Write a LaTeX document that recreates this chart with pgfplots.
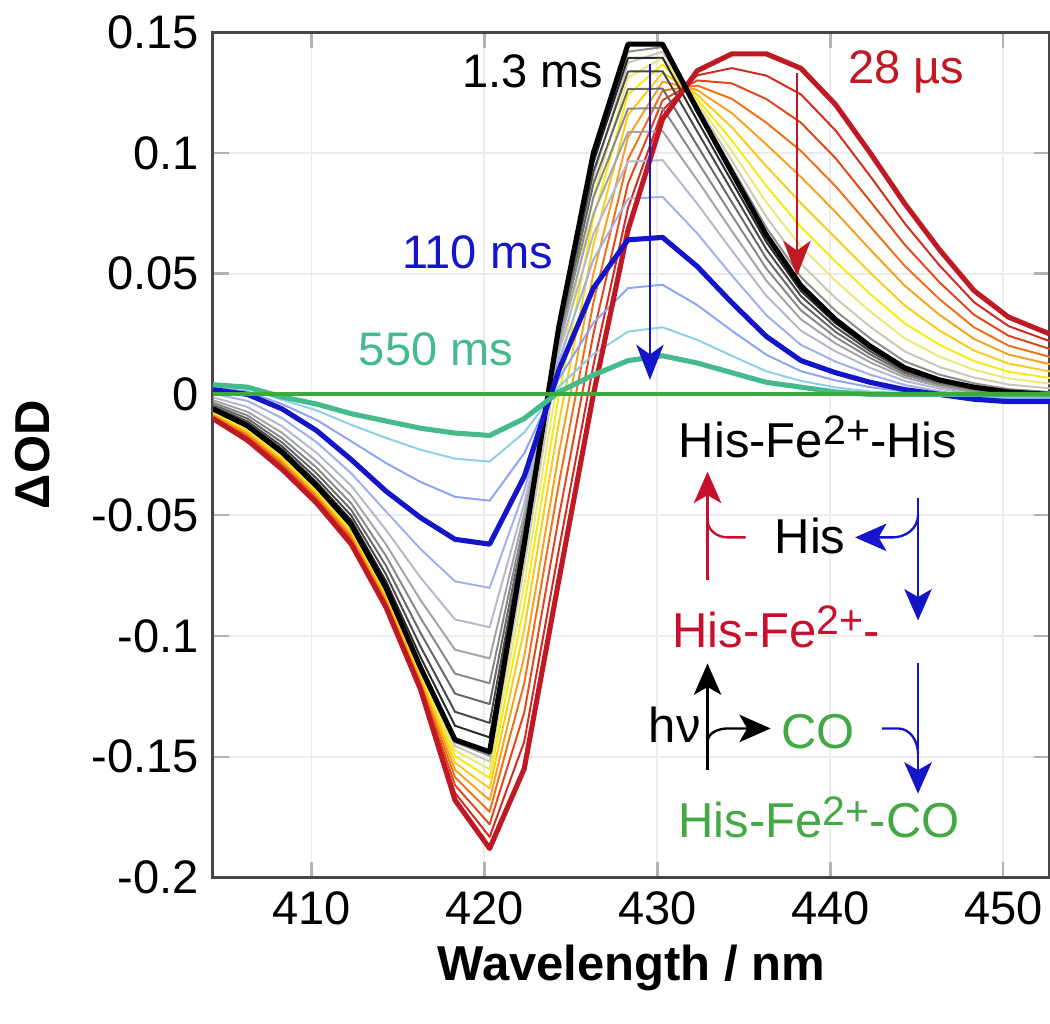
\documentclass[border=0pt]{standalone}
\usepackage{fontspec}
\setmainfont{Liberation Sans}
\usepackage{pgfplots}
\usepackage{pgfplotstable}
\pgfplotsset{compat=1.18}
\usetikzlibrary{arrows.meta}

\definecolor{c28us}{HTML}{BF1A24}
\definecolor{c13ms}{HTML}{000000}
\definecolor{c110ms}{HTML}{1414C8}
\definecolor{c550ms}{HTML}{45BA8C}
\definecolor{cflat}{HTML}{3BAA3B}
\definecolor{a12}{HTML}{D42A1E}
\definecolor{a25}{HTML}{E2461A}
\definecolor{a38}{HTML}{EE7018}
\definecolor{a50}{HTML}{F6A21E}
\definecolor{a62}{HTML}{F8CC1C}
\definecolor{a73}{HTML}{F4EC10}
\definecolor{a82}{HTML}{ECE878}
\definecolor{a90}{HTML}{C8C8B4}
\definecolor{a96}{HTML}{8C8C8C}
\definecolor{b07}{HTML}{2A2A2A}
\definecolor{b14}{HTML}{484848}
\definecolor{b23}{HTML}{686868}
\definecolor{b33}{HTML}{888888}
\definecolor{b45}{HTML}{A4A4A8}
\definecolor{b60}{HTML}{B4B8CC}
\definecolor{b79}{HTML}{A0B0EC}
\definecolor{c40}{HTML}{8CA4F4}
\definecolor{c76}{HTML}{8CD0E8}
\definecolor{schred}{HTML}{C8102E}
\definecolor{schgreen}{HTML}{44A844}

% transient spectra, 28 us -> 1.3 ms -> 110 ms -> 550 ms
\pgfplotstableread{
x     R      a12     a25     a38     a50     a62     a73     a82     a90     a96     K      b07     b14     b23     b33     b45     b60     b79     B      c40     c76     T
404.3 -0.010 -0.0095 -0.0090 -0.0085 -0.0080 -0.0075 -0.0071 -0.0067 -0.0064 -0.0062 -0.006 -0.0054 -0.0049 -0.0042 -0.0034 -0.0024 -0.0012 0.0003 0.002 0.0028 0.0035 0.004
406.3 -0.019 -0.0183 -0.0175 -0.0167 -0.0160 -0.0153 -0.0146 -0.0141 -0.0136 -0.0132 -0.013 -0.0121 -0.0112 -0.0100 -0.0087 -0.0072 -0.0052 -0.0027 0.000 0.0012 0.0023 0.003
408.3 -0.031 -0.0302 -0.0293 -0.0283 -0.0275 -0.0267 -0.0259 -0.0253 -0.0247 -0.0243 -0.024 -0.0227 -0.0215 -0.0199 -0.0181 -0.0159 -0.0132 -0.0098 -0.006 -0.0040 -0.0022 -0.001
410.3 -0.045 -0.0442 -0.0433 -0.0423 -0.0415 -0.0407 -0.0399 -0.0393 -0.0387 -0.0383 -0.038 -0.0364 -0.0348 -0.0327 -0.0304 -0.0277 -0.0242 -0.0198 -0.015 -0.0106 -0.0066 -0.004
412.3 -0.062 -0.0610 -0.0600 -0.0590 -0.0580 -0.0570 -0.0562 -0.0554 -0.0548 -0.0543 -0.054 -0.0521 -0.0502 -0.0478 -0.0451 -0.0419 -0.0378 -0.0327 -0.027 -0.0194 -0.0126 -0.008
414.3 -0.088 -0.0870 -0.0860 -0.0850 -0.0840 -0.0830 -0.0822 -0.0814 -0.0808 -0.0803 -0.080 -0.0772 -0.0744 -0.0708 -0.0668 -0.0620 -0.0560 -0.0484 -0.040 -0.0284 -0.0180 -0.011
416.3 -0.122 -0.1209 -0.1198 -0.1186 -0.1175 -0.1164 -0.1154 -0.1146 -0.1139 -0.1134 -0.113 -0.1087 -0.1043 -0.0987 -0.0925 -0.0851 -0.0758 -0.0640 -0.051 -0.0362 -0.0229 -0.014
418.3 -0.168 -0.1650 -0.1618 -0.1585 -0.1555 -0.1525 -0.1498 -0.1475 -0.1455 -0.1440 -0.143 -0.1372 -0.1314 -0.1239 -0.1156 -0.1057 -0.0932 -0.0774 -0.060 -0.0424 -0.0266 -0.016
420.3 -0.188 -0.1832 -0.1780 -0.1728 -0.1680 -0.1632 -0.1588 -0.1552 -0.1520 -0.1496 -0.148 -0.1420 -0.1360 -0.1282 -0.1196 -0.1093 -0.0964 -0.0801 -0.062 -0.0440 -0.0278 -0.017
422.3 -0.155 -0.1438 -0.1318 -0.1197 -0.1085 -0.0973 -0.0871 -0.0787 -0.0713 -0.0657 -0.062 -0.0600 -0.0581 -0.0556 -0.0528 -0.0494 -0.0452 -0.0399 -0.034 -0.0244 -0.0158 -0.010
424.3 -0.077 -0.0644 -0.0508 -0.0371 -0.0245 -0.0119 -0.0004 0.0091 0.0175 0.0238 0.028 0.0267 0.0255 0.0239 0.0221 0.0199 0.0172 0.0138 0.010 0.0064 0.0032 0.001
426.3 0.000 0.0120 0.0250 0.0380 0.0500 0.0620 0.0730 0.0820 0.0900 0.0960 0.100 0.0961 0.0922 0.0871 0.0815 0.0748 0.0664 0.0558 0.044 0.0296 0.0166 0.008
428.3 0.068 0.0772 0.0873 0.0973 0.1065 0.1157 0.1242 0.1311 0.1373 0.1419 0.145 0.1393 0.1337 0.1264 0.1183 0.1086 0.0964 0.0810 0.064 0.0440 0.0260 0.014
430.3 0.114 0.1177 0.1218 0.1258 0.1295 0.1332 0.1366 0.1394 0.1419 0.1438 0.145 0.1394 0.1338 0.1266 0.1186 0.1090 0.0970 0.0818 0.065 0.0454 0.0278 0.016
432.3 0.134 0.1321 0.1300 0.1279 0.1260 0.1241 0.1223 0.1209 0.1196 0.1186 0.118 0.1135 0.1089 0.1031 0.0966 0.0888 0.0790 0.0667 0.053 0.0370 0.0226 0.013
434.3 0.141 0.1351 0.1288 0.1224 0.1165 0.1106 0.1052 0.1008 0.0969 0.0940 0.092 0.0882 0.0844 0.0796 0.0742 0.0677 0.0596 0.0493 0.038 0.0264 0.0160 0.009
436.3 0.141 0.1320 0.1223 0.1125 0.1035 0.0945 0.0863 0.0795 0.0735 0.0690 0.066 0.0631 0.0601 0.0563 0.0521 0.0471 0.0408 0.0328 0.024 0.0164 0.0096 0.005
438.3 0.135 0.1242 0.1125 0.1008 0.0900 0.0792 0.0693 0.0612 0.0540 0.0486 0.045 0.0428 0.0407 0.0379 0.0348 0.0311 0.0264 0.0205 0.014 0.0096 0.0056 0.003
440.3 0.120 0.1093 0.0978 0.0862 0.0755 0.0648 0.0550 0.0470 0.0399 0.0346 0.031 0.0295 0.0279 0.0259 0.0237 0.0211 0.0178 0.0136 0.009 0.0058 0.0029 0.001
442.3 0.100 0.0904 0.0800 0.0696 0.0600 0.0504 0.0416 0.0344 0.0280 0.0232 0.020 0.0190 0.0179 0.0166 0.0151 0.0133 0.0110 0.0082 0.005 0.0030 0.0012 0.000
444.3 0.079 0.0708 0.0620 0.0532 0.0450 0.0368 0.0294 0.0232 0.0178 0.0137 0.011 0.0104 0.0097 0.0089 0.0080 0.0070 0.0056 0.0039 0.002 0.0012 0.0005 0.000
446.3 0.060 0.0535 0.0465 0.0395 0.0330 0.0265 0.0206 0.0157 0.0114 0.0082 0.006 0.0056 0.0052 0.0046 0.0040 0.0033 0.0024 0.0013 0.000 0.0000 0.0000 0.000
448.3 0.043 0.0382 0.0330 0.0278 0.0230 0.0182 0.0138 0.0102 0.0070 0.0046 0.003 0.0027 0.0023 0.0019 0.0014 0.0008 0.0000 -0.0010 -0.002 -0.0012 -0.0005 0.000
450.3 0.032 0.0283 0.0243 0.0202 0.0165 0.0128 0.0094 0.0066 0.0041 0.0022 0.001 0.0007 0.0004 0.0001 -0.0003 -0.0008 -0.0014 -0.0022 -0.003 -0.0018 -0.0007 0.000
452.7 0.025 0.0220 0.0188 0.0155 0.0125 0.0095 0.0068 0.0045 0.0025 0.0010 0.000 -0.0002 -0.0004 -0.0007 -0.0010 -0.0014 -0.0018 -0.0024 -0.003 -0.0018 -0.0007 0.000
}\spectra

\newcommand{\chg}{\raisebox{3.2pt}{\fontsize{10.5}{11}\selectfont 2+}}

\begin{document}
\begin{tikzpicture}
\begin{axis}[
    name=ax,
    scale only axis,
    width=213.5pt,
    height=215.6pt,
    xmin=404.3, xmax=452.7,
    ymin=-0.2, ymax=0.15,
    xtick={410,420,430,440,450},
    xticklabels={410,420,430,440,450},
    ytick={-0.2,-0.15,-0.1,-0.05,0,0.05,0.1,0.15},
    yticklabels={-0.2,-0.15,-0.1,-0.05,0,0.05,0.1,0.15},
    tick label style={font=\fontsize{12}{14}\selectfont},
    tick align=inside,
    major tick length=4pt,
    tick style={draw=gray!60, line width=0.6pt},
    grid=major,
    major grid style={draw=gray!15, line width=0.5pt},
    axis line style={draw=gray!55!black, line width=0.8pt},
    xlabel={Wavelength / nm},
    ylabel={ΔOD},
    label style={font=\fontsize{12.5}{14}\selectfont\bfseries},
    xlabel style={at={(axis description cs:0.5,0)}, anchor=center, yshift=-23pt},
    ylabel style={at={(axis description cs:0,0.5)}, anchor=center, yshift=46pt},
    no markers,
    every axis plot/.append style={line join=round},
]
\addplot[a12, line width=0.5pt] table[x=x, y=a12] {\spectra};
\addplot[a25, line width=0.5pt] table[x=x, y=a25] {\spectra};
\addplot[a38, line width=0.5pt] table[x=x, y=a38] {\spectra};
\addplot[a50, line width=0.5pt] table[x=x, y=a50] {\spectra};
\addplot[a62, line width=0.5pt] table[x=x, y=a62] {\spectra};
\addplot[a73, line width=0.5pt] table[x=x, y=a73] {\spectra};
\addplot[a82, line width=0.5pt] table[x=x, y=a82] {\spectra};
\addplot[a90, line width=0.5pt] table[x=x, y=a90] {\spectra};
\addplot[a96, line width=0.5pt] table[x=x, y=a96] {\spectra};
\addplot[b07, line width=0.5pt] table[x=x, y=b07] {\spectra};
\addplot[b14, line width=0.5pt] table[x=x, y=b14] {\spectra};
\addplot[b23, line width=0.5pt] table[x=x, y=b23] {\spectra};
\addplot[b33, line width=0.5pt] table[x=x, y=b33] {\spectra};
\addplot[b45, line width=0.5pt] table[x=x, y=b45] {\spectra};
\addplot[b60, line width=0.5pt] table[x=x, y=b60] {\spectra};
\addplot[b79, line width=0.5pt] table[x=x, y=b79] {\spectra};
\addplot[c40, line width=0.5pt] table[x=x, y=c40] {\spectra};
\addplot[c76, line width=0.5pt] table[x=x, y=c76] {\spectra};
\addplot[c28us, line width=1.3pt] table[x=x, y=R] {\spectra};
\addplot[c13ms, line width=1.3pt] table[x=x, y=K] {\spectra};
\addplot[c110ms, line width=1.3pt] table[x=x, y=B] {\spectra};
\addplot[c550ms, line width=1.3pt] table[x=x, y=T] {\spectra};
\addplot[cflat, line width=1.0pt] coordinates {(404.3,0) (452.7,0)};

% decay arrows
\draw[c28us, line width=0.5pt, -{Stealth[length=9pt,width=7pt,inset=2.5pt]}] (438.07,0.133) -- (438.07,0.049);
\draw[c110ms, line width=0.5pt, -{Stealth[length=9pt,width=7pt,inset=2.5pt]}] (429.57,0.137) -- (429.57,0.006);

% time labels
\begin{scope}[every node/.style={font=\fontsize{12}{14}\selectfont, anchor=base, inner sep=0pt}]
\node[text=black] at (422.8,0.127) {1.3 ms};
\node[text=c28us] at (444.4,0.1288) {28 µs};
\node[text=c110ms] at (419.6,0.0522) {110 ms};
\node[text=c550ms] at (417.2,0.0120) {550 ms};
\end{scope}

% reaction scheme
\begin{scope}[every node/.style={font=\fontsize{12.5}{14}\selectfont, anchor=base, inner sep=0pt}]
\node[text=black] at (439.29,-0.0261) {His-Fe\chg-His};
\node[text=black] at (438.83,-0.0659) {His};
\node[text=schred] at (436.86,-0.1048) {His-Fe\chg-};
\node[text=black] at (431.01,-0.1442) {hν};
\node[text=schgreen] at (439.29,-0.1466) {CO};
\node[text=schgreen] at (439.35,-0.1835) {His-Fe\chg-CO};
\end{scope}

\begin{scope}[line width=0.6pt]
\draw[schred, -{Stealth[length=8pt,width=7pt,inset=2pt]}] (432.9,-0.077) -- (432.9,-0.032);
\draw[schred] (435.1,-0.0592) -- (434.06,-0.0592) to[out=180,in=-90] (432.9,-0.0520);
\draw[c110ms, -{Stealth[length=8pt,width=7pt,inset=2pt]}] (445.07,-0.0427) -- (445.07,-0.0936);
\draw[c110ms, -{Stealth[length=8pt,width=7pt,inset=2pt]}] (445.07,-0.0500) to[out=-90,in=0] (443.6,-0.0592) -- (441.43,-0.0592);
\draw[black, -{Stealth[length=8pt,width=7pt,inset=2pt]}] (432.9,-0.1557) -- (432.9,-0.1114);
\draw[black, -{Stealth[length=8pt,width=7pt,inset=2pt]}] (432.9,-0.1440) to[out=90,in=180] (434.1,-0.1383) -- (436.55,-0.1383);
\draw[c110ms, -{Stealth[length=8pt,width=7pt,inset=2pt]}] (445.07,-0.1114) -- (445.07,-0.1653);
\draw[c110ms] (443.0,-0.1383) -- (443.9,-0.1383) to[out=0,in=90] (445.07,-0.1490);
\end{scope}
\end{axis}
\pgfresetboundingbox
\path[use as bounding box] ([xshift=-54.3pt,yshift=-37.2pt]ax.south west) rectangle ([yshift=8.2pt]ax.north east);
\end{tikzpicture}
\end{document}
